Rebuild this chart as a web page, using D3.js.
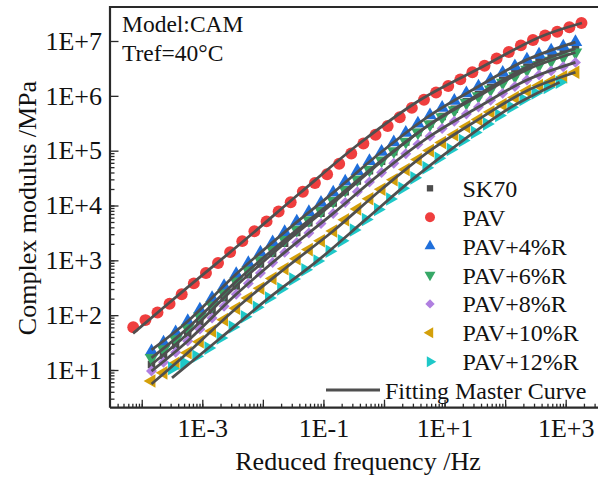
<!DOCTYPE html>
<html><head><meta charset="utf-8">
<script src="https://cdn.jsdelivr.net/npm/d3@7"></script>
<style>
body{margin:0;background:#fff}
svg{display:block}
text{font-family:"Liberation Serif","Times New Roman",serif;fill:#111}
</style>
</head><body>
<svg id="c" width="598" height="477"></svg>
<script>
// ---------------- data ----------------
const seriesNames = ["SK70","PAV","PAV+4%R","PAV+6%R","PAV+8%R","PAV+10%R","PAV+12%R"];
const freqPAV = [7.24e-5,1.15e-4,1.82e-4,2.88e-4,4.57e-4,7.24e-4,1.15e-3,1.82e-3,2.88e-3,4.57e-3,7.24e-3,1.15e-2,1.82e-2,2.88e-2,4.57e-2,7.24e-2,0.115,0.182,0.288,0.457,0.724,1.15,1.82,2.88,4.57,7.24,11.5,18.2,28.8,45.7,72.4,115,182,288,457,724,1150,1820];
const modPAV = [60.3,81.3,112,162,240,380,589,891,1413,2239,3388,5129,7762,11482,17783,25704,37154,57544,89125,134896,194984,281838,407380,602560,851138,1.148e6,1.514e6,1.995e6,2.692e6,3.548e6,4.786e6,6.310e6,8.318e6,1.047e7,1.259e7,1.479e7,1.778e7,2.138e7];
const freqR = [1.45e-4,2.29e-4,3.63e-4,5.75e-4,9.12e-4,1.45e-3,2.29e-3,3.63e-3,5.75e-3,9.12e-3,1.45e-2,2.29e-2,3.63e-2,5.75e-2,9.12e-2,0.145,0.229,0.363,0.575,0.912,1.45,2.29,3.63,5.75,9.12,14.5,22.9,36.3,57.5,91.2,145,229,363,575,912,1450];
const modSK70 = [12.6,18.3,28.3,45.7,75.7,122,205,342,546,853,1330,2056,3206,4842,7211,11120,17780,28050,42850,63830,95280,143550,213800,304800,418800,570200,783400,1.054e6,1.416e6,1.901e6,2.529e6,3.357e6,4.169e6,4.989e6,5.984e6,7.244e6];
const modR4 = [21.9,31.6,48.4,77.6,127,204,339,562,891,1380,2138,3273,5070,7586,11220,17180,27230,42660,64570,95500,141250,211350,312600,441600,602560,812830,1.109e6,1.479e6,1.972e6,2.630e6,3.467e6,4.571e6,5.623e6,6.683e6,7.943e6,9.550e6];
const modR6 = [16.6,23.9,36.4,58.1,94.8,151,250,413,652,1005,1549,2360,3640,5420,7980,12160,19190,29920,45080,66370,97720,145540,214290,301300,409300,549540,746400,990800,1.315e6,1.746e6,2.291e6,3.006e6,3.681e6,4.355e6,5.152e6,6.166e6];
const modR8 = [9.55,13.8,21.1,33.9,55.6,89.1,145,240,380,589,912,1396,2113,3162,4677,7161,11350,17780,26920,39810,58880,88100,130300,184100,254100,342800,467700,623700,831800,1.109e6,1.479e6,1.950e6,2.399e6,2.851e6,3.388e6,4.074e6];
const modR10 = [6.31,8.87,13.2,20.6,32.9,51.3,82.8,134,206,310,468,703,1069,1570,2280,3428,5483,8670,13240,19770,29510,45390,69020,100200,140600,195000,272300,371500,507000,691800,933300,1.242e6,1.542e6,1.849e6,2.218e6,2.692e6];
const freqC = [3.16e-4,5.01e-4,7.94e-4,1.26e-3,2.00e-3,3.16e-3,5.01e-3,7.94e-3,1.26e-2,2.00e-2,3.16e-2,5.01e-2,7.94e-2,0.126,0.200,0.316,0.501,0.794,1.26,2.00,3.16,5.01,7.94,12.6,20.0,31.6,50.1,79.4,126,200,316,501,794];
const modR12 = [10.7,13.5,17.8,25.1,38.4,60.8,93.3,139,206,302,455,673,975,1462,2265,3565,5572,8492,13150,20560,31920,48980,72440,105000,153100,215300,307600,439500,622300,859000,1.130e6,1.422e6,1.770e6];

// fitted master curves (knots)
const fitFreqPAV = [7.19e-5,4.81e-4,4.70e-3,0.0410,0.402,3.93,38.5,376,1854];
const fitModPAV  = [46.5,275,2203,16900,138000,839500,3.22e6,1.183e7,2.128e7];
const fitFreqR = [1.45e-4,5.75e-4,3.63e-3,2.29e-2,0.145,0.912,5.75,36.3,229,1450];
const fitModSK70 = [12.6,45.7,342,2056,11120,63830,304800,1.054e6,3.357e6,7.244e6];
const fitModR4  = [23.2,77.6,562,3273,17180,95500,441600,1.479e6,4.571e6,9.55e6];
const fitModR6  = [16.6,58.1,413,2360,12160,66370,301300,990800,3.006e6,6.166e6];
const fitModR8  = [9.55,33.9,240,1396,7161,39810,184100,623700,1.95e6,4.074e6];
const fitModR10 = [5.55,20.6,134,703,3428,19770,100200,371500,1.242e6,2.692e6];
const fitFreqC = [3.16e-4,2.00e-3,1.26e-2,7.94e-2,0.501,3.16,20.0,126,794];
const fitModR12 = [7.2,38.4,206,975,5572,31920,153100,622300,1.77e6];

const xTickValues = [1e-3,1e-1,1e1,1e3];
const xTickLabels = ["1E-3","1E-1","1E+1","1E+3"];
const yTickValues = [1e1,1e2,1e3,1e4,1e5,1e6,1e7];
const yTickLabels = ["1E+1","1E+2","1E+3","1E+4","1E+5","1E+6","1E+7"];
const colors = ["#4d4d4d","#ef3e3e","#1f6fdb","#37a867","#b07fe0","#d4a00a","#1ec8c8"];

// ---------------- chart ----------------
const svg = d3.select("#c");
const L = 110, T = 7, B = 407.7, R = 640;
const x = d3.scaleLog().domain([1e-3,1e3]).range([202.3,565.7]);
const y = d3.scaleLog().domain([10,1e7]).range([370,41]);

svg.append("rect").attr("width",598).attr("height",477).attr("fill","#fff");

const xMinor = [], yMinor = [];
for (let e=-6; e<=4; e++) for (let m=1; m<=9; m++) {
  const v = m*Math.pow(10,e);
  if (x(v) > L+1 && x(v) < 598) xMinor.push(v);
  if (y(v) < B-1 && y(v) > T+1) yMinor.push(v);
}
const xMajor = xMinor.filter(v => Math.abs(Math.log10(v)-Math.round(Math.log10(v)))<1e-9);

const axisColor = "#2a2a2a";
const gx = svg.append("g").attr("transform",`translate(0,${B})`);
gx.call(d3.axisBottom(x).tickValues(xMinor).tickSize(-4).tickFormat(""));
gx.call(g=>g.select(".domain").remove());
const gx2 = svg.append("g").attr("transform",`translate(0,${B})`);
gx2.call(d3.axisBottom(x).tickValues(xMajor).tickSize(-8).tickPadding(11)
  .tickFormat(v => { const i = xTickValues.findIndex(t=>Math.abs(t-v)/t<1e-6); return i>=0 ? xTickLabels[i] : ""; }));
gx2.call(g=>g.select(".domain").remove());
const gy = svg.append("g").attr("transform",`translate(${L},0)`);
gy.call(d3.axisLeft(y).tickValues(yMinor).tickSize(-4.5).tickFormat(""));
gy.call(g=>g.select(".domain").remove());
const gy2 = svg.append("g").attr("transform",`translate(${L},0)`);
gy2.call(d3.axisLeft(y).tickValues(yTickValues).tickSize(-8.5).tickPadding(8)
  .tickFormat((v,i)=>yTickLabels[i]));
gy2.call(g=>g.select(".domain").remove());
svg.selectAll(".tick line").attr("stroke",axisColor).attr("stroke-width",1.3);
svg.selectAll(".tick text").attr("font-size",26).attr("font-family",'"Liberation Serif",serif').attr("fill","#111");

svg.append("path").attr("d",`M${L},${B}H${R}M${L},${B}V${T}H${R}`)
  .attr("fill","none").attr("stroke",axisColor).attr("stroke-width",2.2);

svg.append("clipPath").attr("id","clip").append("rect")
  .attr("x",L+1).attr("y",T+1).attr("width",R-L).attr("height",B-T-2);
const plot = svg.append("g").attr("clip-path","url(#clip)");

const shapes = [
  {sym:d3.symbol().type(d3.symbolSquare).size(56), rot:0},
  {sym:d3.symbol().type(d3.symbolCircle).size(112), rot:0},
  {sym:d3.symbol().type(d3.symbolTriangle).size(80), rot:0},
  {sym:d3.symbol().type(d3.symbolTriangle).size(80), rot:180},
  {sym:d3.symbol().type(d3.symbolSquare).size(60), rot:45},
  {sym:d3.symbol().type(d3.symbolTriangle).size(80), rot:-90},
  {sym:d3.symbol().type(d3.symbolTriangle).size(80), rot:90}
];
const seriesData = [
  [freqR, modSK70],[freqPAV, modPAV],[freqR, modR4],[freqR, modR6],[freqR, modR8],[freqR, modR10],[freqC, modR12]
];
seriesData.forEach(([fs, ms], si) => {
  const pts = fs.map((f,i)=>[f, ms[i]]);
  plot.append("g").selectAll("path").data(pts).join("path")
    .attr("d", shapes[si].sym())
    .attr("transform", d=>`translate(${x(d[0])},${y(d[1])}) rotate(${shapes[si].rot})`)
    .attr("fill", colors[si]);
});

const fits = [
  [fitFreqR, fitModSK70],[fitFreqPAV, fitModPAV],[fitFreqR, fitModR4],[fitFreqR, fitModR6],
  [fitFreqR, fitModR8],[fitFreqR, fitModR10],[fitFreqC, fitModR12]
];
const line = d3.line().x(d=>x(d[0])).y(d=>y(d[1])).curve(d3.curveCatmullRom.alpha(0.5));
fits.forEach(([fs, ms]) => {
  plot.append("path").datum(fs.map((f,i)=>[f, ms[i]]))
    .attr("d", line).attr("fill","none").attr("stroke","#4f4f4f").attr("stroke-width",2.8);
});

svg.append("text").attr("x",122).attr("y",32).attr("font-size",23.5).text("Model:CAM");
svg.append("text").attr("x",122).attr("y",61).attr("font-size",23.5).text("Tref=40\u00B0C");

svg.append("text").attr("x",358).attr("y",470).attr("text-anchor","middle").attr("font-size",26)
  .text("Reduced frequency /Hz");
svg.append("text").attr("transform","translate(36,208) rotate(-90)").attr("text-anchor","middle")
  .attr("font-size",26).text("Complex modulus /MPa");

const legY0 = 188.3, legDy = 28.9;
const leg = svg.append("g");
const legSyms = [
  d3.symbol().type(d3.symbolSquare).size(40),
  d3.symbol().type(d3.symbolCircle).size(78),
  d3.symbol().type(d3.symbolTriangle).size(52),
  d3.symbol().type(d3.symbolTriangle).size(52),
  d3.symbol().type(d3.symbolSquare).size(44),
  d3.symbol().type(d3.symbolTriangle).size(52),
  d3.symbol().type(d3.symbolTriangle).size(52)
];
seriesNames.forEach((name, i) => {
  const cy = legY0 + i*legDy;
  leg.append("path").attr("d", legSyms[i]())
    .attr("transform", `translate(430,${cy}) rotate(${shapes[i].rot})`)
    .attr("fill", colors[i]);
  leg.append("text").attr("x",462.5).attr("y",cy+8.5).attr("font-size",24).text(name);
});
leg.append("line").attr("x1",326).attr("x2",380).attr("y1",390).attr("y2",390)
  .attr("stroke","#4f4f4f").attr("stroke-width",2.8);
leg.append("text").attr("x",385).attr("y",398.5).attr("font-size",24).text("Fitting Master Curve");
</script>
</body></html>
